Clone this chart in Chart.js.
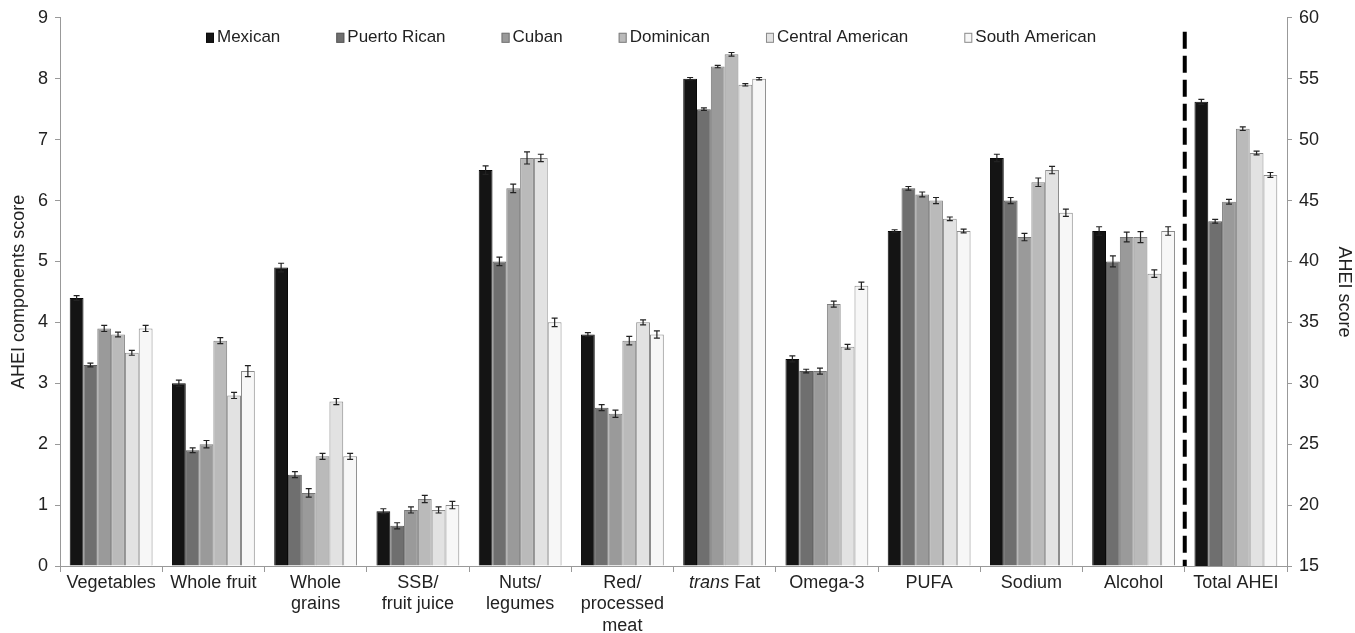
<!DOCTYPE html>
<html>
<head>
<meta charset="utf-8">
<script src="https://cdn.jsdelivr.net/npm/chart.js@4.4.0/dist/chart.umd.min.js"></script>
<style>
html, body { margin: 0; padding: 0; background: #fff; }
</style>
</head>
<body>
<canvas id="ahei" width="1355" height="633"></canvas>
<script>
var categories = ["Vegetables", "Whole fruit", "Whole grains", "SSB/fruit juice", "Nuts/legumes", "Red/processed meat",
    "trans Fat", "Omega-3", "PUFA", "Sodium", "Alcohol", "Total AHEI"];
var tickLabels = [["Vegetables"], ["Whole fruit"], ["Whole", "grains"], ["SSB/", "fruit juice"], ["Nuts/", "legumes"],
    ["Red/", "processed", "meat"], ["trans Fat"], ["Omega-3"], ["PUFA"], ["Sodium"], ["Alcohol"], ["Total AHEI"]];
var groups = ["Mexican", "Puerto Rican", "Cuban", "Dominican", "Central American", "South American"];

// component scores (left axis), one value per component
var mexican = [4.4, 3.0, 4.9, 0.9, 6.5, 3.8, 8.0, 3.4, 5.5, 6.7, 5.5];
var puertoRican = [3.3, 1.9, 1.5, 0.66, 5.0, 2.6, 7.5, 3.2, 6.2, 6.0, 5.0];
var cuban = [3.9, 2.0, 1.2, 0.92, 6.2, 2.5, 8.2, 3.2, 6.1, 5.4, 5.4];
var dominican = [3.8, 3.7, 1.8, 1.1, 6.7, 3.7, 8.4, 4.3, 6.0, 6.3, 5.4];
var centralAmerican = [3.5, 2.8, 2.7, 0.92, 6.7, 4.0, 7.9, 3.6, 5.7, 6.5, 4.8];
var southAmerican = [3.9, 3.2, 1.8, 1.0, 4.0, 3.8, 8.0, 4.6, 5.5, 5.8, 5.5];

// standard errors for the component scores
var mexicanErr = [0.04, 0.05, 0.07, 0.04, 0.07, 0.03, 0.02, 0.05, 0.02, 0.06, 0.07];
var puertoRicanErr = [0.03, 0.04, 0.05, 0.05, 0.07, 0.05, 0.02, 0.03, 0.03, 0.05, 0.09];
var cubanErr = [0.05, 0.06, 0.07, 0.05, 0.07, 0.06, 0.02, 0.05, 0.04, 0.06, 0.08];
var dominicanErr = [0.04, 0.05, 0.05, 0.06, 0.1, 0.07, 0.03, 0.05, 0.05, 0.07, 0.09];
var centralAmericanErr = [0.04, 0.05, 0.05, 0.05, 0.06, 0.04, 0.02, 0.04, 0.03, 0.06, 0.06];
var southAmericanErr = [0.05, 0.09, 0.05, 0.06, 0.07, 0.06, 0.02, 0.06, 0.03, 0.06, 0.07];

// total AHEI score (right axis), one value per group
var totalAHEI = [53.1, 43.3, 44.9, 50.9, 48.9, 47.1];
var totalAHEIErr = [0.2, 0.15, 0.2, 0.15, 0.15, 0.2];

var fillColors = ["#141414", "#6f6f6f", "#9a9a9a", "#bababa", "#e2e2e2", "#f7f7f7"];
var edgeColors = ["#0a0a0a", "#5a5a5a", "#777777", "#808080", "#8a8a8a", "#8a8a8a"];

var componentSeries = [mexican, puertoRican, cuban, dominican, centralAmerican, southAmerican];
var componentErr = [mexicanErr, puertoRicanErr, cubanErr, dominicanErr, centralAmericanErr, southAmericanErr];

var datasets = [];
groups.forEach(function (g, i) {
    datasets.push({
        label: g,
        yAxisID: "y",
        data: componentSeries[i].concat([null]),
        err: componentErr[i].concat([null]),
        backgroundColor: fillColors[i],
        borderColor: edgeColors[i],
        borderWidth: 1
    });
});
groups.forEach(function (g, i) {
    var d = categories.map(function () { return null; });
    var e = categories.map(function () { return null; });
    d[categories.length - 1] = totalAHEI[i];
    e[categories.length - 1] = totalAHEIErr[i];
    datasets.push({
        label: g + " total",
        yAxisID: "y1",
        data: d,
        err: e,
        backgroundColor: fillColors[i],
        borderColor: edgeColors[i],
        borderWidth: 1
    });
});

var FONT = "'Liberation Sans', Arial, sans-serif";

var errorBars = {
    id: "error_bars",
    afterDatasetsDraw(chart) {
        var ctx = chart.ctx;
        ctx.save();
        ctx.strokeStyle = "#222";
        ctx.lineWidth = 1.2;
        chart.data.datasets.forEach(function (ds, i) {
            var meta = chart.getDatasetMeta(i);
            var scale = chart.scales[ds.yAxisID];
            meta.data.forEach(function (bar, j) {
                var v = ds.data[j];
                if (v === null) return;
                var e = ds.err[j];
                var top = scale.getPixelForValue(v + e);
                var bot = scale.getPixelForValue(v - e);
                ctx.beginPath();
                ctx.moveTo(bar.x, top); ctx.lineTo(bar.x, bot);
                ctx.moveTo(bar.x - 3, top); ctx.lineTo(bar.x + 3, top);
                ctx.moveTo(bar.x - 3, bot); ctx.lineTo(bar.x + 3, bot);
                ctx.stroke();
            });
        });
        ctx.restore();
    }
};

var extras = {
    id: "extras",
    afterDraw(chart) {
        var ctx = chart.ctx;
        var area = chart.chartArea;
        var xs = chart.scales.x;
        ctx.save();
        // dashed separator before Total AHEI
        var sx = (xs.getPixelForValue(10) + xs.getPixelForValue(11)) / 2;
        ctx.strokeStyle = "#000";
        ctx.lineWidth = 4;
        ctx.setLineDash([17, 7]);
        ctx.beginPath();
        ctx.moveTo(sx, area.top + 14);
        ctx.lineTo(sx, area.bottom);
        ctx.stroke();
        ctx.setLineDash([]);

        // italic "trans" in the trans Fat label
        var cx = xs.getPixelForValue(6);
        var ty = xs.top + 6 + 10.8;
        ctx.fillStyle = "#222";
        ctx.textBaseline = "middle";
        ctx.font = "italic 18px " + FONT;
        var w1 = ctx.measureText("trans").width;
        ctx.font = "18px " + FONT;
        var w2 = ctx.measureText(" Fat").width;
        var sx0 = cx - (w1 + w2) / 2;
        ctx.textAlign = "left";
        ctx.font = "italic 18px " + FONT;
        ctx.fillText("trans", sx0, ty);
        ctx.font = "18px " + FONT;
        ctx.fillText(" Fat", sx0 + w1, ty);

        // legend inside the plot
        ctx.font = "17px " + FONT;
        ctx.textBaseline = "middle";
        var lx = area.left + 146;
        var ly = area.top + 20;
        groups.forEach(function (g, i) {
            ctx.fillStyle = fillColors[i];
            ctx.fillRect(lx, ly - 5, 8, 10);
            ctx.strokeStyle = edgeColors[i];
            ctx.lineWidth = 1;
            ctx.strokeRect(lx + 0.5, ly - 4.5, 7, 9);
            ctx.fillStyle = "#222";
            ctx.fillText(g, lx + 11, ly);
            lx += 11 + ctx.measureText(g).width + 56;
        });
        ctx.restore();
    }
};

var ctx = document.getElementById("ahei").getContext("2d");
var chart = new Chart(ctx, {
    type: "bar",
    data: {
        labels: categories,
        datasets: datasets
    },
    options: {
        responsive: false,
        animation: false,
        devicePixelRatio: 1,
        layout: { padding: { top: 17, left: 0, right: 0, bottom: 0 } },
        datasets: {
            bar: {
                skipNull: true,
                categoryPercentage: 0.81,
                barPercentage: 1.0
            }
        },
        plugins: {
            legend: { display: false },
            tooltip: { enabled: false }
        },
        scales: {
            x: {
                grid: { display: true, drawOnChartArea: false, offset: true, tickLength: 6, color: "#999" },
                border: { color: "#999", width: 1 },
                ticks: {
                    padding: 0,
                    color: "#222",
                    font: { family: FONT, size: 18, lineHeight: 1.2 },
                    maxRotation: 0,
                    autoSkip: false,
                    callback: function (value, index) {
                        return index === 6 ? "" : tickLabels[index];
                    }
                },
                afterFit: function (scale) { scale.height = 67; }
            },
            y: {
                position: "left",
                min: 0,
                max: 9,
                grid: { display: true, drawOnChartArea: false, tickLength: 5, color: "#999" },
                border: { color: "#999", width: 1 },
                ticks: { stepSize: 1, padding: 7, color: "#222", font: { family: FONT, size: 18 } },
                title: {
                    display: true,
                    text: "AHEI components score",
                    color: "#222",
                    font: { family: FONT, size: 18 },
                    padding: { top: 8, bottom: 0 }
                },
                afterFit: function (scale) { scale.width = 60; }
            },
            y1: {
                position: "right",
                min: 15,
                max: 60,
                grid: { display: true, drawOnChartArea: false, tickLength: 5, color: "#999" },
                border: { color: "#999", width: 1 },
                ticks: { stepSize: 5, padding: 7, color: "#222", font: { family: FONT, size: 18 } },
                title: {
                    display: true,
                    text: "AHEI score",
                    color: "#222",
                    font: { family: FONT, size: 18 },
                    padding: { top: 0, bottom: 9 }
                },
                afterFit: function (scale) { scale.width = 68; }
            }
        }
    },
    plugins: [errorBars, extras]
});
</script>
</body>
</html>
